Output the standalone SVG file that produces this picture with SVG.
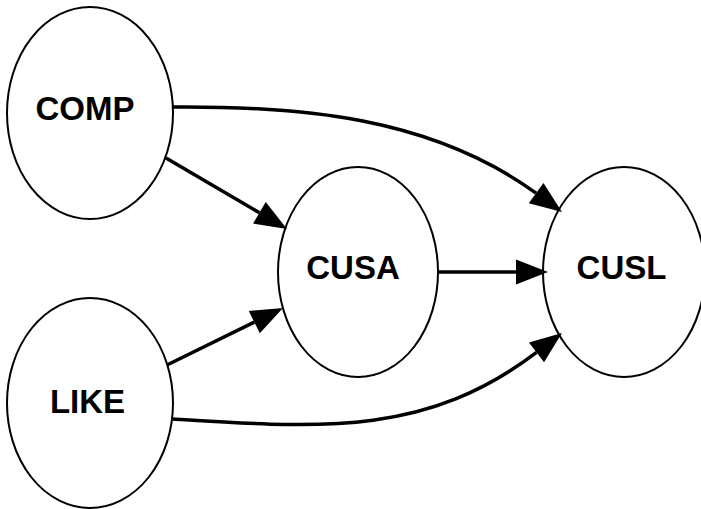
<svg xmlns="http://www.w3.org/2000/svg" width="701" height="509" viewBox="0 0 701 509">
<style>
.node ellipse{fill:#fff;stroke:#000;stroke-width:2}
.node text{font-family:"Liberation Sans",Arial,sans-serif;font-weight:bold;font-size:33px;fill:#000;text-anchor:middle}
.edge{fill:none;stroke:#000;stroke-width:3.5;marker-end:url(#arr)}
</style>
<defs>
<marker id="arr" markerUnits="userSpaceOnUse" markerWidth="32" markerHeight="25" refX="0" refY="12.5" orient="auto" overflow="visible">
<path d="M0,0 L32,12.5 L0,25 z" fill="#000"/>
</marker>
</defs>
<rect width="701" height="509" fill="#fff"/>
<g id="nodes">
<g id="COMP" class="node"><ellipse cx="90" cy="113" rx="83" ry="106"/><text x="85" y="120">COMP</text></g>
<g id="LIKE" class="node"><ellipse cx="90" cy="403" rx="83" ry="105"/><text x="87.5" y="413">LIKE</text></g>
<g id="CUSA" class="node"><ellipse cx="358" cy="272" rx="80" ry="105"/><text x="353" y="279">CUSA</text></g>
<g id="CUSL" class="node"><ellipse cx="624" cy="272" rx="81" ry="105"/><text x="621.5" y="279">CUSL</text></g>
</g>
<g id="connectors">
<path class="edge" d="M173,107 C300,106 430.9,116.8 536.1,193.2"/>
<path class="edge" d="M166,158 L259.4,212.8"/>
<path class="edge" d="M167,365 L254.3,322.1"/>
<path class="edge" d="M438,272 L516,272"/>
<path class="edge" d="M173,419 C320,428 425.1,437.1 536.5,352.4"/>
</g>
</svg>
